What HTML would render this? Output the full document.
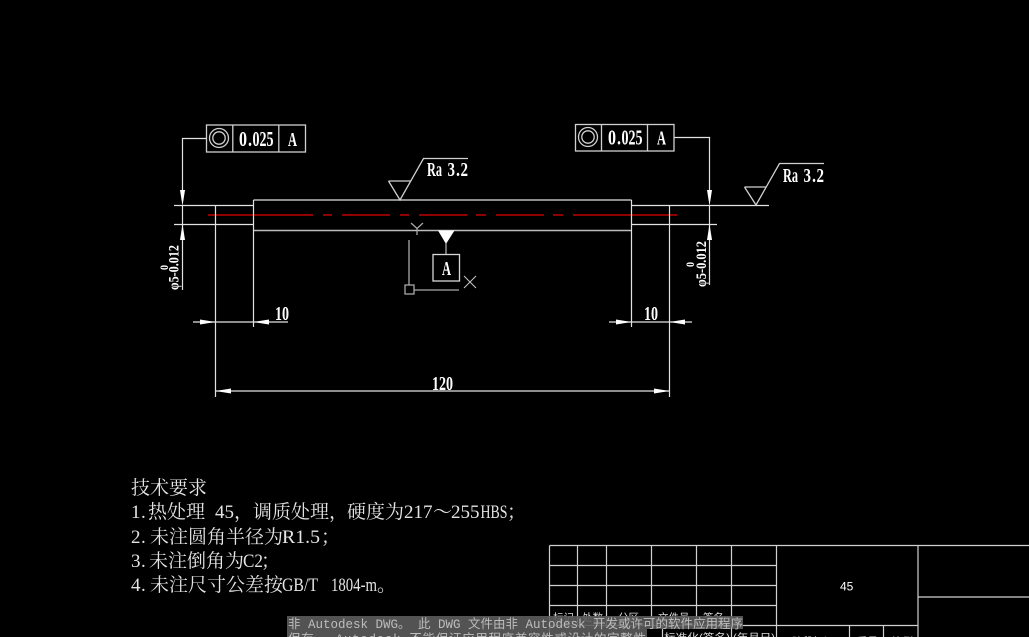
<!DOCTYPE html>
<html>
<head>
<meta charset="utf-8">
<style>
html,body{margin:0;padding:0;background:#000;width:1029px;height:637px;overflow:hidden}
svg{display:block}
.cad{font-family:"Liberation Serif","Noto Serif CJK SC",serif;font-weight:bold;fill:#fff}
.cn{font-family:"Liberation Serif","Noto Serif CJK SC",serif;fill:#e4e4e4;font-size:19px}
.sm{font-family:"Liberation Sans","Noto Sans CJK SC",sans-serif;fill:#ddd;font-size:10.5px}
.wm{font-family:"Liberation Mono","Noto Sans CJK SC",monospace;fill:#bdbdbd;font-size:12.5px}
</style>
</head>
<body>
<svg width="1029" height="637" viewBox="0 0 1029 637" xmlns="http://www.w3.org/2000/svg">
<rect width="1029" height="637" fill="#000"/>

<!-- centre line -->
<g stroke="#8f0000" stroke-width="2" fill="none">
<path d="M208 215H313M323 215H332M342 215H390M400 215H409M419 215H467M476 215H486M496 215H544M553 215H563M573 215H677"/>
</g>

<!-- shaft -->
<g fill="none" stroke="#bcbcbc" stroke-width="1.4">
<path d="M253.5 200H631.5M253.5 230.5H631.5"/>
</g>
<g fill="none" stroke="#e2e2e2" stroke-width="1.2">
<path d="M253.5 200V327M631.5 200V327"/>
<path d="M174 205.5H253.5M174 224.5H253.5M631.5 205.5H769M631.5 224.5H717"/>
<path d="M215.5 205V397M669.5 205V397"/>
<!-- leaders -->
<path d="M206 138.5H182.5V190M182.5 206V290"/>
<path d="M674 137.5H709.5V190M709.5 206V285"/>
<!-- dims -->
<path d="M193 322H288M609 322H692M215.5 391H669.5"/>
</g>

<!-- arrows -->
<g fill="#fff" stroke="none">
<polygon points="180,190 185,190 182.5,206"/>
<polygon points="180,240 185,240 182.5,224"/>
<polygon points="707,190 712,190 709.5,206"/>
<polygon points="707,240 712,240 709.5,224"/>
<polygon points="200,319.5 200,324.5 215.5,322"/>
<polygon points="269,319.5 269,324.5 253.5,322"/>
<polygon points="616,319.5 616,324.5 631.5,322"/>
<polygon points="685,319.5 685,324.5 669.5,322"/>
<polygon points="231,388.5 231,393.5 215.5,391"/>
<polygon points="654,388.5 654,393.5 669.5,391"/>
</g>

<!-- FCF left -->
<g fill="none" stroke="#d0d0d0" stroke-width="1.3">
<rect x="206.5" y="125" width="99" height="27"/>
<path d="M232.8 125V152M278.8 125V152"/>
<circle cx="219" cy="138" r="9.5"/>
<circle cx="219" cy="138" r="6.2"/>
</g>
<text class="cad" font-size="21" x="239" y="146" textLength="8" lengthAdjust="spacingAndGlyphs">0</text>
<text class="cad" font-size="21" x="248" y="146" textLength="4" lengthAdjust="spacingAndGlyphs">.</text>
<text class="cad" font-size="21" x="252.5" y="146" textLength="21" lengthAdjust="spacingAndGlyphs">025</text>
<text class="cad" font-size="20" x="288" y="146" textLength="9" lengthAdjust="spacingAndGlyphs">A</text>

<!-- FCF right -->
<g fill="none" stroke="#d0d0d0" stroke-width="1.3">
<rect x="575.5" y="124.5" width="98.5" height="26.5"/>
<path d="M601.5 124.5V151M647.5 124.5V151"/>
<circle cx="588" cy="137" r="9.5"/>
<circle cx="588" cy="137" r="6.2"/>
</g>
<text class="cad" font-size="21" x="608" y="144.5" textLength="8" lengthAdjust="spacingAndGlyphs">0</text>
<text class="cad" font-size="21" x="617" y="144.5" textLength="4" lengthAdjust="spacingAndGlyphs">.</text>
<text class="cad" font-size="21" x="621.5" y="144.5" textLength="21" lengthAdjust="spacingAndGlyphs">025</text>
<text class="cad" font-size="20" x="657" y="144.5" textLength="9" lengthAdjust="spacingAndGlyphs">A</text>

<!-- roughness -->
<g fill="none" stroke="#d0d0d0" stroke-width="1.3">
<path d="M388.5 181H410.5M388.5 181L400 200L423.5 158.5H468"/>
<path d="M744.5 187H766.5M744.5 187L756 205L779.5 163.5H824"/>
</g>
<text class="cad" font-size="20" x="427" y="176" textLength="15" lengthAdjust="spacingAndGlyphs">Ra</text>
<text class="cad" font-size="20" x="447.5" y="176" textLength="7.5" lengthAdjust="spacingAndGlyphs">3</text>
<text class="cad" font-size="20" x="456" y="176" textLength="4" lengthAdjust="spacingAndGlyphs">.</text>
<text class="cad" font-size="20" x="460.5" y="176" textLength="7.5" lengthAdjust="spacingAndGlyphs">2</text>
<text class="cad" font-size="20" x="783" y="182" textLength="15" lengthAdjust="spacingAndGlyphs">Ra</text>
<text class="cad" font-size="20" x="803.5" y="182" textLength="7.5" lengthAdjust="spacingAndGlyphs">3</text>
<text class="cad" font-size="20" x="812" y="182" textLength="4" lengthAdjust="spacingAndGlyphs">.</text>
<text class="cad" font-size="20" x="816.5" y="182" textLength="7.5" lengthAdjust="spacingAndGlyphs">2</text>

<!-- datum -->
<polygon points="438,230.5 454.5,230.5 446,244" fill="#fff"/>
<path d="M446 243V254" stroke="#bbb" stroke-width="1.2"/>
<rect x="433" y="254.5" width="26.5" height="26.5" fill="none" stroke="#d8d8d8" stroke-width="1.3"/>
<text class="cad" font-size="20" x="442" y="275" textLength="9" lengthAdjust="spacingAndGlyphs">A</text>

<!-- UCS -->
<g fill="none" stroke="#a8a8a8" stroke-width="1.3">
<path d="M411 223L417 228.5L423 223M417 228.5V235"/>
<path d="M409 240V285M414 290H459"/>
<rect x="405" y="285" width="9" height="9"/>
</g>
<path d="M464 276L476 288M476 276L464 288" stroke="#c8c8c8" stroke-width="1" fill="none"/>

<!-- dim text -->
<text class="cad" font-size="20" x="275" y="320" textLength="14" lengthAdjust="spacingAndGlyphs">10</text>
<text class="cad" font-size="20" x="644" y="320" textLength="14" lengthAdjust="spacingAndGlyphs">10</text>
<text class="cad" font-size="20" x="432" y="390" textLength="21" lengthAdjust="spacingAndGlyphs">120</text>

<text class="cad" font-size="15" transform="translate(178.5 290) rotate(-90)" textLength="45" lengthAdjust="spacingAndGlyphs">φ5-0.012</text>
<text class="cad" font-size="12" transform="translate(168 270) rotate(-90)" textLength="5" lengthAdjust="spacingAndGlyphs">0</text>
<text class="cad" font-size="15" transform="translate(706 287) rotate(-90)" textLength="46" lengthAdjust="spacingAndGlyphs">φ5-0.012</text>
<text class="cad" font-size="12" transform="translate(694 267) rotate(-90)" textLength="5" lengthAdjust="spacingAndGlyphs">0</text>

<!-- notes -->
<text class="cn" y="494"><tspan x="131 150 169 188">技术要求</tspan></text>
<text class="cn" y="518"><tspan x="131 141">1.</tspan><tspan x="148 167 186">热处理</tspan><tspan x="215 224.5">45</tspan><tspan x="234">，</tspan><tspan x="253 272 291 310">调质处理</tspan><tspan x="329">，</tspan><tspan x="347 366 385">硬度为</tspan><tspan x="404 413.5 423">217</tspan><tspan x="433">～</tspan><tspan x="451 460.5 470">255</tspan><tspan x="480.5" textLength="27" lengthAdjust="spacingAndGlyphs">HBS</tspan><tspan x="507">；</tspan></text>
<text class="cn" y="543"><tspan x="131 141">2.</tspan><tspan x="150 169 188 207 226 245 264">未注圆角半径为</tspan><tspan x="282" textLength="38" lengthAdjust="spacingAndGlyphs">R1.5</tspan><tspan x="321">；</tspan></text>
<text class="cn" y="567"><tspan x="131 141">3.</tspan><tspan x="149 168 187 206 225">未注倒角为</tspan><tspan x="243" textLength="20" lengthAdjust="spacingAndGlyphs">C2</tspan><tspan x="261">；</tspan></text>
<text class="cn" y="591"><tspan x="131 141">4.</tspan><tspan x="150 169 188 207 226 245 264">未注尺寸公差按</tspan><tspan x="282" textLength="36" lengthAdjust="spacingAndGlyphs">GB/T</tspan><tspan x="331" textLength="46" lengthAdjust="spacingAndGlyphs">1804-m</tspan><tspan x="377">。</tspan></text>

<!-- title block -->
<g fill="none" stroke="#d0d0d0" stroke-width="1.2">
<path d="M549.5 545.5H1029M549.5 565.5H776.5M549.5 585.5H776.5M549.5 605.5H776.5M549.5 625.5H776.5"/>
<path d="M549.5 545.5V637M577.5 545.5V625M606.5 545.5V625M651.5 545.5V625M696.5 545.5V625M731.5 545.5V637M662.5 625.5V637"/>
<path d="M776.5 545.5V637M918 545.5V637M918 597H1029M776.5 625.5H918M849.5 625.5V637M883.5 625.5V637"/>
</g>
<text class="sm" style="font-size:12px;fill:#fff" x="840" y="590.5">45</text>
<text class="sm" x="553" y="621">标记</text>
<text class="sm" x="582" y="621">处数</text>
<text class="sm" x="618" y="621">分区</text>
<text class="sm" x="658" y="621">文件号</text>
<text class="sm" x="703" y="621">签名</text>
<text class="sm" x="792" y="645">阶段标记</text>
<text class="sm" x="857" y="645">重量</text>
<text class="sm" x="892" y="645">比例</text>
<text class="sm" x="664" y="641" textLength="66" lengthAdjust="spacingAndGlyphs">标准化(签名)</text>
<text class="sm" x="733" y="641" textLength="42" lengthAdjust="spacingAndGlyphs">(年月日)</text>

<!-- watermark -->
<rect x="287" y="616" width="456" height="13" fill="#5c5c5c" fill-opacity=".9"/>
<rect x="287" y="629" width="360" height="8" fill="#5c5c5c" fill-opacity=".9"/>
<text class="wm" x="288" y="628" textLength="455" lengthAdjust="spacing">非 Autodesk DWG。 此 DWG 文件由非 Autodesk 开发或许可的软件应用程序</text>
<text class="wm" x="288" y="643" textLength="358" lengthAdjust="spacing">保存。 Autodesk 不能保证应用程序兼容性或设计的完整性</text>
</svg>
</body>
</html>
